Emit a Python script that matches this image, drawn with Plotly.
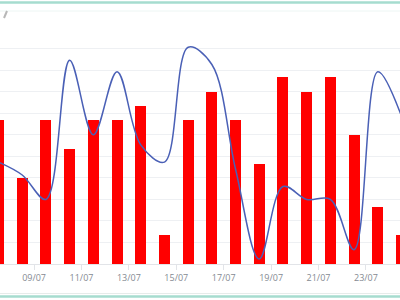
import pandas as pd
import plotly.graph_objects as go

# ---- data ----
days = ["07/07", "08/07", "09/07", "10/07", "11/07", "12/07", "13/07", "14/07", "15/07",
        "16/07", "17/07", "18/07", "19/07", "20/07", "21/07", "22/07", "23/07", "24/07"]
bar_values = [10, 6, 10, 8, 10, 10, 11, 2, 10, 12, 10, 7, 13, 12, 13, 9, 4, 2]
line_values = [7.1, 6.2, 4.5, 14.2, 9.0, 13.4, 8.3, 7.1, 15.1, 13.9, 6.6, 0.35,
               5.4, 4.5, 4.5, 1.0, 13.4, 10.3]
tick_labels = ["09/07", "11/07", "13/07", "15/07", "17/07", "19/07", "21/07", "23/07"]
grid_values = [1.5 * k for k in range(11)]

YEAR = "2024"


def to_date(s):
    d, m = s.split("/")
    return pd.Timestamp(f"{YEAR}-{m}-{d}")


x_mid = [to_date(s) + pd.Timedelta(hours=12) for s in days]
tick_dates = [to_date(s) for s in tick_labels]

fig = go.Figure()
fig.add_trace(go.Bar(
    x=x_mid, y=bar_values,
    marker=dict(color="#ff0000", line=dict(width=0)),
    width=0.465 * 86400000,
    showlegend=False,
))
fig.add_trace(go.Scatter(
    x=x_mid, y=line_values, mode="lines",
    line=dict(color="#4a60b6", width=1.5, shape="spline", smoothing=1.0),
    showlegend=False,
))

x_start = to_date("07/07") + pd.Timedelta(hours=13.5)
x_end = to_date("24/07") + pd.Timedelta(hours=10.5)

fig.update_layout(
    width=400, height=300,
    margin=dict(l=0, r=0, t=20, b=36),
    paper_bgcolor="white", plot_bgcolor="white",
    bargap=0,
    xaxis=dict(
        type="date", range=[x_start, x_end],
        tickmode="array", tickvals=tick_dates, ticktext=tick_labels,
        showgrid=False, showline=True, linecolor="#e2e4e8", linewidth=1,
        ticks="outside", ticklen=5, tickcolor="#e2e4e8",
        tickfont=dict(family="Open Sans", size=9, color="#858a92"),
        zeroline=False,
    ),
    yaxis=dict(
        range=[0, 17], tickmode="array", tickvals=grid_values,
        showticklabels=False, showgrid=True, gridcolor="#eef0f3", gridwidth=1,
        zeroline=False, showline=False,
    ),
    shapes=[
        dict(type="line", xref="paper", yref="paper", x0=0, x1=1,
             y0=(264 - 2.5) / 244, y1=(264 - 2.5) / 244,
             line=dict(color="#a6dccf", width=2.5)),
        dict(type="line", xref="paper", yref="paper", x0=0, x1=1,
             y0=(264 - 11) / 244, y1=(264 - 11) / 244,
             line=dict(color="#edf6f4", width=1)),
        dict(type="line", xref="paper", yref="paper", x0=0, x1=1,
             y0=(264 - 293.5) / 244, y1=(264 - 293.5) / 244,
             line=dict(color="#e6ecea", width=1)),
        dict(type="line", xref="paper", yref="paper", x0=0, x1=1,
             y0=(264 - 296.5) / 244, y1=(264 - 296.5) / 244,
             line=dict(color="#a6dccf", width=2.5)),
        dict(type="line", xref="paper", yref="paper",
             x0=4 / 400, x1=7 / 400,
             y0=(264 - 18) / 244, y1=(264 - 11) / 244,
             line=dict(color="#b8b8b8", width=2)),
    ],
)

fig.write_html("out.html")
